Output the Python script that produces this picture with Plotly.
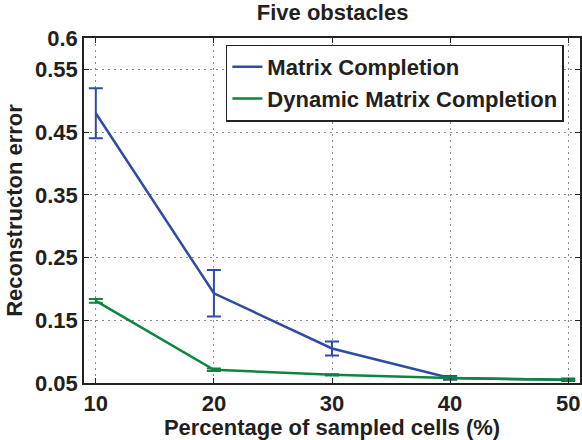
import plotly.graph_objects as go

x_pct = [10, 20, 30, 40, 50]
mc_mean = [0.480, 0.193, 0.105, 0.058, 0.055]
mc_err = [0.040, 0.037, 0.011, 0.003, 0.002]
dmc_mean = [0.181, 0.071, 0.063, 0.058, 0.055]
dmc_err = [0.003, 0.002, 0.001, 0.001, 0.001]
y_ticks = [0.05, 0.15, 0.25, 0.35, 0.45, 0.55, 0.6]
y_tick_labels = ["0.05", "0.15", "0.25", "0.35", "0.45", "0.55", "0.6"]

BLUE = "#2E4CA6"
GREEN = "#0C8540"
TXT = "#231F20"
FONT = "Liberation Sans, Arial, sans-serif"

fig = go.Figure()
fig.add_trace(go.Scatter(
    x=x_pct, y=mc_mean, mode="lines", name="Matrix Completion",
    line=dict(color=BLUE, width=2.5),
    error_y=dict(type="data", array=mc_err, visible=True, color=BLUE, thickness=2, width=7),
))
fig.add_trace(go.Scatter(
    x=x_pct, y=dmc_mean, mode="lines", name="Dynamic Matrix Completion",
    line=dict(color=GREEN, width=2.5),
    error_y=dict(type="data", array=dmc_err, visible=True, color=GREEN, thickness=2, width=7),
))

axis_common = dict(
    showline=True, linecolor="#222", linewidth=1.5, mirror="ticks",
    ticks="inside", ticklen=5, tickcolor="#222",
    showgrid=True, gridcolor="#8a8a8a", griddash="1.5px,4.5px", gridwidth=1.2,
    zeroline=False, automargin=False,
    tickfont=dict(family=FONT, size=22, color=TXT, weight="bold"),
)

fig.update_layout(
    width=582, height=440, autosize=False,
    margin=dict(l=84, r=2, t=38, b=57),
    paper_bgcolor="white", plot_bgcolor="white",
    font=dict(family=FONT, size=22, color=TXT, weight="bold"),
    title=dict(text="Five obstacles", x=0.5715, xanchor="center", y=0.972, yanchor="middle",
               font=dict(family=FONT, size=22, color=TXT, weight="bold")),
    xaxis=dict(range=[9, 51], tickvals=x_pct, ticktext=[str(v) for v in x_pct],
               title=dict(text="Percentage of sampled cells (%)", standoff=0,
                          font=dict(family=FONT, size=22, color=TXT, weight="bold")),
               **axis_common),
    yaxis=dict(range=[0.05, 0.6], tickvals=y_ticks, ticktext=y_tick_labels,
               title=dict(text="Reconstructon error", standoff=6,
                          font=dict(family=FONT, size=22, color=TXT, weight="bold")),
               **axis_common),
    legend=dict(x=0.286, y=0.981, xanchor="left", yanchor="top",
                bgcolor="white", bordercolor="#222", borderwidth=1.5,
                font=dict(family=FONT, size=22, color=TXT, weight="bold"),
                tracegroupgap=0, itemwidth=30),
    showlegend=True,
)

fig.write_html("out.html", config={"displayModeBar": False},
               post_script="document.body.style.margin='0';document.body.style.padding='0';")
